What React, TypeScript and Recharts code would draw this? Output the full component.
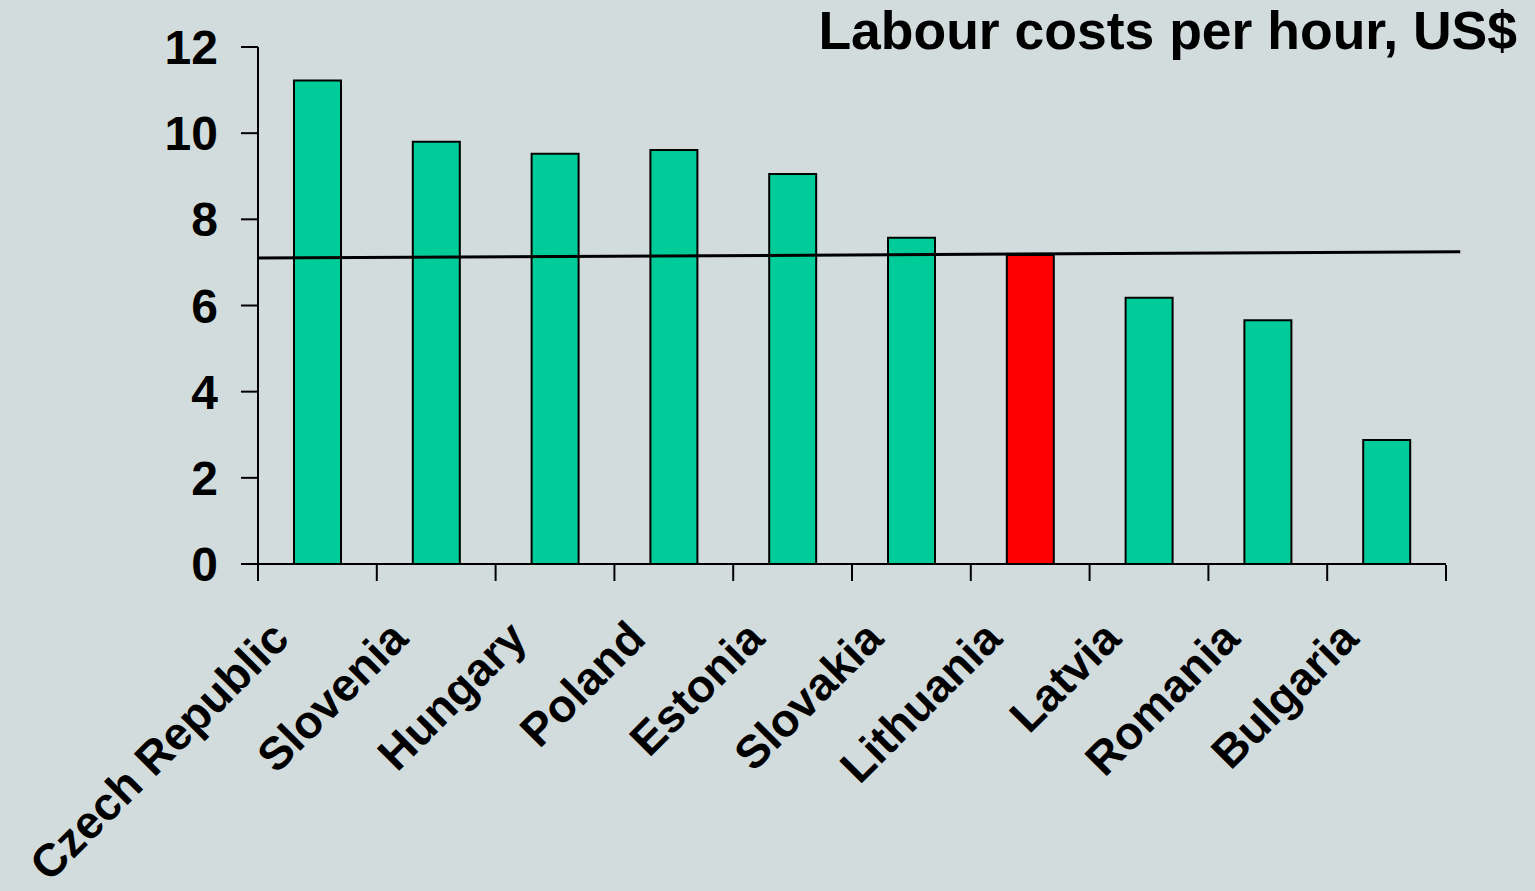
import React from 'react';
import { BarChart, Bar, XAxis, YAxis, Cell, ReferenceLine } from 'recharts';

const countries = [
  'Czech Republic',
  'Slovenia',
  'Hungary',
  'Poland',
  'Estonia',
  'Slovakia',
  'Lithuania',
  'Latvia',
  'Romania',
  'Bulgaria',
];
const costs = [11.22, 9.8, 9.52, 9.61, 9.05, 7.57, 7.17, 6.18, 5.66, 2.88];
const highlight = 'Lithuania';
const yTicks = [0, 2, 4, 6, 8, 10, 12];
const boundaryTicks = [0, 1, 2, 3, 4, 5, 6, 7, 8, 9, 10];
// trend line, start/end (x in category slots)
const trend = [
  { x: 0, y: 7.1 },
  { x: 10.12, y: 7.25 },
];

const FONT = '"Liberation Sans", Arial, sans-serif';
const BG = '#D3DCDD';

// slot = centre of each category in slot units, for the boundary-tick axis
const chartData = countries.map((country, i) => ({ country, cost: costs[i], slot: i + 0.5 }));

function CountryTick({ x, y, payload }: any) {
  const tx = x - 26;
  const ty = y + 77;
  return (
    <text
      x={tx}
      y={ty}
      transform={`rotate(-45, ${tx}, ${ty})`}
      textAnchor="end"
      fill="#000"
      fontFamily={FONT}
      fontWeight="bold"
      fontSize={46}
    >
      {payload.value}
    </text>
  );
}

const NoLabel = () => <g />;

export default function App() {
  return (
    <div style={{ position: 'absolute', left: 0, top: 0, width: 1535, height: 891, background: BG, overflow: 'hidden' }}>
      <div
        style={{
          position: 'absolute',
          top: 4,
          right: 18,
          fontFamily: FONT,
          fontWeight: 'bold',
          fontSize: 53.5,
          lineHeight: '53px',
          color: '#000',
          whiteSpace: 'nowrap',
        }}
      >
        Labour costs per hour, US$
      </div>
      <BarChart
        width={1535}
        height={891}
        data={chartData}
        margin={{ top: 47, right: 89, left: 0, bottom: 325 }}
        barCategoryGap={0}
      >
        <XAxis
          xAxisId="cat"
          dataKey="country"
          type="category"
          height={1}
          tickLine={false}
          tickSize={0}
          tickMargin={0}
          interval={0}
          axisLine={{ stroke: '#000', strokeWidth: 2 }}
          tick={<CountryTick />}
        />
        <XAxis
          xAxisId="num"
          dataKey="slot"
          type="number"
          domain={[0, 10]}
          allowDataOverflow
          ticks={boundaryTicks}
          interval={0}
          height={1}
          axisLine={false}
          tick={NoLabel}
          tickSize={16}
          tickLine={{ stroke: '#000', strokeWidth: 2 }}
        />
        <YAxis
          domain={[0, 12]}
          ticks={yTicks}
          interval={0}
          width={258}
          tickSize={17}
          tickMargin={23}
          axisLine={{ stroke: '#000', strokeWidth: 2 }}
          tickLine={{ stroke: '#000', strokeWidth: 2 }}
          tick={{ fill: '#000', fontFamily: FONT, fontWeight: 'bold', fontSize: 48 }}
        />
        <Bar
          xAxisId="cat"
          dataKey="cost"
          barSize={47}
          stroke="#000"
          strokeWidth={2}
          isAnimationActive={false}
        >
          {chartData.map((entry, index) => (
            <Cell key={`cell-${index}`} fill={entry.country === highlight ? '#FF0000' : '#00CC99'} />
          ))}
        </Bar>
        <ReferenceLine
          xAxisId="num"
          segment={trend}
          stroke="#000"
          strokeWidth={3}
          ifOverflow="visible"
        />
      </BarChart>
    </div>
  );
}
